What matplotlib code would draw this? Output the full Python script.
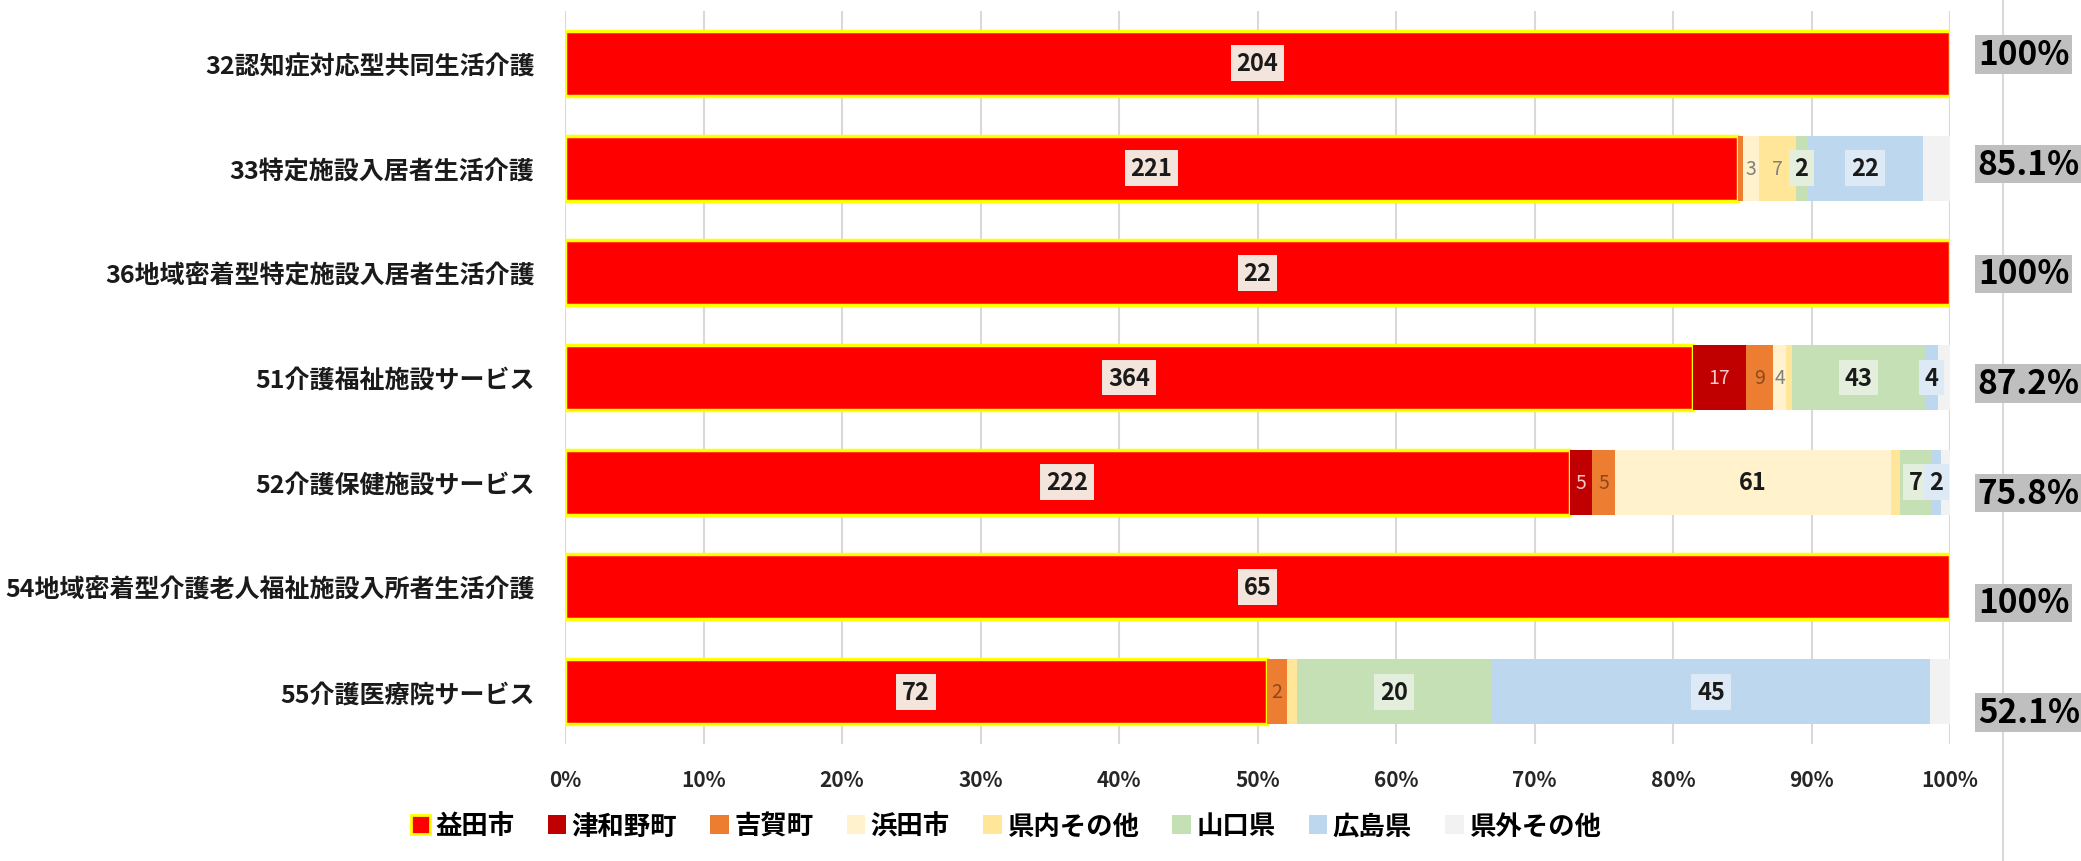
import numpy as np
import matplotlib
matplotlib.use('Agg')
import matplotlib.pyplot as plt
from matplotlib.patches import Patch
from matplotlib.lines import Line2D

plt.rcParams['font.family'] = ['Noto Sans CJK JP', 'DejaVu Sans']

categories = ['32認知症対応型共同生活介護', '33特定施設入居者生活介護',
              '36地域密着型特定施設入居者生活介護', '51介護福祉施設サービス',
              '52介護保健施設サービス', '54地域密着型介護老人福祉施設入所者生活介護',
              '55介護医療院サービス']
areas = ['益田市', '津和野町', '吉賀町', '浜田市', '県内その他', '山口県', '広島県', '県外その他']

masuda    = [204, 221, 22, 364, 222, 65, 72]
tsuwano   = [0, 0, 0, 17, 5, 0, 0]
yoshika   = [0, 1, 0, 9, 5, 0, 2]
hamada    = [0, 3, 0, 4, 61, 0, 0]
ken_other = [0, 7, 0, 2, 2, 0, 1]
yamaguchi = [0, 2, 0, 43, 7, 0, 20]
hiroshima = [0, 22, 0, 4, 2, 0, 45]
outside   = [0, 5, 0, 4, 2, 0, 2]

colors = ['#FF0000', '#C00000', '#ED7D31', '#FFF2CC', '#FFE699', '#C5E0B4', '#BDD7EE', '#F2F2F2']

series = np.array([masuda, tsuwano, yoshika, hamada, ken_other, yamaguchi, hiroshima, outside], dtype=float)
totals = series.sum(axis=0)
shares = series / totals

# smallest count that still gets a label, per area
label_min = [1, 2, 2, 2, 3, 2, 2, 10**9]

fig = plt.figure(figsize=(20.81, 8.62), dpi=100)
ax = fig.add_axes([565 / 2081, 1 - 745 / 862, 1385 / 2081, 733 / 862])

y = np.arange(len(categories))
left = np.zeros(len(categories))
for i, (name, col) in enumerate(zip(areas, colors)):
    if i == 0:
        ax.barh(y, shares[i], left=left, height=0.62, color=col, edgecolor='#FFFF00', linewidth=2.5, zorder=3)
    else:
        ax.barh(y, shares[i], left=left, height=0.62, color=col, linewidth=0, zorder=3)

    for j in range(len(categories)):
        v = series[i, j]
        if v < label_min[i]:
            continue
        cx = left[j] + shares[i, j] / 2
        txt = str(int(v))
        if i == 0:
            ax.text(cx, j, txt, ha='center', va='center', fontsize=17, fontweight='bold', color='#1a1a1a',
                    bbox=dict(boxstyle='square,pad=0.25', fc='#F3E4DC', ec='none'), zorder=5)
        elif i == 1:
            ax.text(cx, j, txt, ha='center', va='center', fontsize=14, color='#F6CACA', zorder=5)
        elif i == 2:
            ax.text(cx, j, txt, ha='center', va='center', fontsize=14, color='#8A4A1E', zorder=5)
        elif i in (3, 4):
            if v >= 10:
                ax.text(cx, j, txt, ha='center', va='center', fontsize=17, fontweight='bold', color='#1a1a1a', zorder=5)
            else:
                ax.text(cx, j, txt, ha='center', va='center', fontsize=14, color='#7F7F7F', zorder=5)
        elif i == 5:
            ax.text(cx, j, txt, ha='center', va='center', fontsize=17, fontweight='bold', color='#1a1a1a',
                    bbox=dict(boxstyle='square,pad=0.25', fc='#E4EEDD', ec='none'), zorder=5)
        elif i == 6:
            ax.text(cx, j, txt, ha='center', va='center', fontsize=17, fontweight='bold', color='#1a1a1a',
                    bbox=dict(boxstyle='square,pad=0.25', fc='#DDE9F4', ec='none'), zorder=5)
    left += shares[i]

# share of the Masuda area (益田市 + 津和野町 + 吉賀町)
local = shares[:3].sum(axis=0)
for j, s in enumerate(local):
    lab = '100%' if np.isclose(s, 1) else f'{s * 100:.1f}%'
    ax.annotate(lab, xy=(1, j), xycoords=('axes fraction', 'data'),
                xytext=(20, -(-9 + 5 * j) * 0.72), textcoords='offset points',
                ha='left', va='center', fontsize=24, fontweight='bold', color='black',
                bbox=dict(boxstyle='square,pad=0.08', fc='#BFBFBF', ec='none'), annotation_clip=False)

ax.set_xlim(0, 1)
ax.set_ylim(len(categories) - 0.5, -0.5)
ax.set_xticks(np.linspace(0, 1, 11))
ax.set_xticklabels([f'{k}%' for k in range(0, 101, 10)], fontsize=15, fontweight='bold', color='#262626')
ax.set_yticks(y)
ax.set_yticklabels(categories, fontsize=18, fontweight='bold', color='#1a1a1a')
ax.tick_params(axis='x', length=0, pad=18)
ax.tick_params(axis='y', length=0, pad=22)
ax.grid(axis='x', color='#D9D9D9', linewidth=1.5, zorder=0)
ax.set_axisbelow(True)
for sp in ax.spines.values():
    sp.set_visible(False)

handles = [Patch(facecolor=c, edgecolor='#FFFF00' if k == 0 else 'none', linewidth=2 if k == 0 else 0)
           for k, c in enumerate(colors)]
fig.legend(handles, areas, loc='center', bbox_to_anchor=(1006 / 2081, 1 - 827 / 862), ncol=8,
           frameon=False, prop={'size': 19, 'weight': 'bold'}, handlelength=0.7, handleheight=0.7,
           handletextpad=0.2, columnspacing=1.27)

# thin divider on the right, kept behind the percentage boxes
fig.add_artist(Line2D([2003 / 2081, 2003 / 2081], [0, 1], color='#D9D9D9', linewidth=1.5, zorder=-1))

fig.savefig('out.png', dpi=100, facecolor='white')
